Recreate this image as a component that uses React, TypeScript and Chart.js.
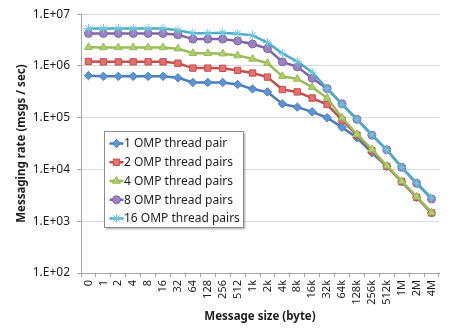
import React, { useEffect, useRef } from 'react';
import { Chart, registerables } from 'chart.js';
import { drawPoint } from 'chart.js/helpers';

Chart.register(...registerables);

const categories = ['0', '1', '2', '4', '8', '16', '32', '64', '128', '256', '512', '1k', '2k', '4k', '8k', '16k', '32k', '64k', '128k', '256k', '512k', '1M', '2M', '4M'];

const pair1 = [650000, 630000, 630000, 630000, 630000, 630000, 590000, 480000, 480000, 480000, 440000, 360000, 315000, 185000, 160000, 130000, 100000, 65000, 41000, 21000, 11500, 5800, 2900, 1450];
const pairs2 = [1220000, 1200000, 1200000, 1200000, 1200000, 1200000, 1130000, 910000, 910000, 900000, 820000, 730000, 610000, 350000, 315000, 240000, 180000, 90000, 46000, 23000, 11500, 5800, 2900, 1450];
const pairs4 = [2300000, 2280000, 2280000, 2280000, 2280000, 2280000, 2160000, 1760000, 1760000, 1730000, 1590000, 1370000, 1130000, 630000, 560000, 390000, 240000, 100000, 48000, 24500, 11800, 5900, 3000, 1480];
const pairs8 = [4250000, 4250000, 4250000, 4250000, 4250000, 4250000, 4000000, 3300000, 3300000, 3300000, 3040000, 2660000, 2160000, 1200000, 960000, 580000, 365000, 186000, 93000, 46000, 24000, 11000, 5400, 2700];
const pairs16 = [5300000, 5300000, 5300000, 5300000, 5300000, 5300000, 4900000, 4300000, 4300000, 4400000, 4200000, 3900000, 2830000, 1750000, 1210000, 760000, 365000, 181000, 93000, 47000, 24000, 11000, 5500, 2800];

const seriesNames = ['1 OMP thread pair', '2 OMP thread pairs', '4 OMP thread pairs', '8 OMP thread pairs', '16 OMP thread pairs'];
const yTickValues = [1e2, 1e3, 1e4, 1e5, 1e6, 1e7];
const yTickLabels = ['1.E+02', '1.E+03', '1.E+04', '1.E+05', '1.E+06', '1.E+07'];

const FONT = "'Noto Sans', 'DejaVu Sans', sans-serif";
const TEXT = '#1e1e1e';

const styles = [
  { line: '#4A7EBB', fill: '#5E94D6', point: 'rectRot', r: 4.2 },
  { line: '#C0504D', fill: '#E8706C', point: 'rect', r: 4.5 },
  { line: '#9BBB59', fill: '#AECF6A', point: 'triangle', r: 4.5 },
  { line: '#8064A2', fill: '#9B83C1', point: 'circle', r: 4 },
  { line: '#4BACC6', fill: '#6FC8DF', point: 'star', r: 4.5 },
];

const legendPlugin = {
  id: 'boxLegend',
  afterDraw(chart: any) {
    const { ctx, chartArea } = chart;
    const x0 = Math.round(chartArea.left + 23) + 0.5;
    const y0 = Math.round(chartArea.top + 117) + 0.5;
    const w = 139;
    const h = 96;
    ctx.save();
    ctx.shadowColor = 'rgba(0,0,0,0.35)';
    ctx.shadowOffsetX = 1.5;
    ctx.shadowOffsetY = 1.5;
    ctx.shadowBlur = 2;
    ctx.fillStyle = '#ffffff';
    ctx.fillRect(x0, y0, w, h);
    ctx.shadowColor = 'transparent';
    ctx.strokeStyle = '#8c8c8c';
    ctx.lineWidth = 1;
    ctx.strokeRect(x0, y0, w, h);
    chart.data.datasets.forEach((ds: any, i: number) => {
      const cy = y0 + 12 + i * 18.75;
      const st = styles[i];
      ctx.strokeStyle = st.line;
      ctx.lineWidth = 2.5;
      ctx.beginPath();
      ctx.moveTo(x0 + 5, cy);
      ctx.lineTo(x0 + 19, cy);
      ctx.stroke();
      ctx.fillStyle = st.fill;
      ctx.strokeStyle = st.point === 'star' ? st.fill : st.line;
      ctx.lineWidth = 1;
      drawPoint(ctx, { pointStyle: st.point, radius: st.r, borderWidth: 1, rotation: 0 } as any, x0 + 12, cy);
      ctx.fillStyle = TEXT;
      ctx.font = `12px ${FONT}`;
      ctx.textBaseline = 'middle';
      ctx.textAlign = 'left';
      ctx.fillText(ds.label, x0 + 19.5, cy + 0.5);
    });
    ctx.restore();
  },
};

export default function App() {
  const ref = useRef<HTMLCanvasElement>(null);
  useEffect(() => {
    if (!ref.current) return;
    const seriesData = [pair1, pairs2, pairs4, pairs8, pairs16];
    const chart = new Chart(ref.current, {
      type: 'line',
      data: {
        labels: categories,
        datasets: seriesData.map((d, i) => ({
          label: seriesNames[i],
          data: d,
          order: seriesData.length - i,
          borderColor: styles[i].line,
          backgroundColor: styles[i].fill,
          borderWidth: 2.5,
          pointStyle: styles[i].point as any,
          pointRadius: styles[i].r,
          pointBackgroundColor: styles[i].fill,
          pointBorderColor: styles[i].point === 'star' ? styles[i].fill : styles[i].line,
          pointBorderWidth: 1,
          tension: 0,
          fill: false,
        })),
      },
      options: {
        animation: false,
        responsive: true,
        maintainAspectRatio: false,
        layout: { padding: { left: 8, right: 13, top: 12, bottom: 4 } },
        plugins: { legend: { display: false }, tooltip: { enabled: false } },
        scales: {
          x: {
            type: 'category',
            offset: true,
            afterFit: (s: any) => { s.height = 52; },
            grid: { display: true, drawOnChartArea: false, drawTicks: true, tickLength: 4, color: '#a6a6a6', offset: true },
            border: { display: true, color: '#a6a6a6', width: 1 },
            ticks: { autoSkip: false, minRotation: 90, maxRotation: 90, padding: 3, color: TEXT, font: { family: FONT, size: 11 } },
            title: { display: true, text: 'Message size (byte)', color: TEXT, font: { family: FONT, size: 11.5, weight: 'bold' }, padding: { top: 0, bottom: 1.5 } },
          },
          y: {
            type: 'logarithmic',
            min: 1e2,
            max: 1e7,
            afterFit: (s: any) => { s.width = 73; },
            afterBuildTicks: (s: any) => { s.ticks = yTickValues.map((v) => ({ value: v })); },
            grid: { color: '#d9d9d9', tickLength: 4, drawTicks: true, tickColor: '#a6a6a6' },
            border: { display: true, color: '#a6a6a6', width: 1 },
            ticks: {
              padding: 7,
              color: TEXT,
              font: { family: FONT, size: 12 },
              callback: (v: any) => { const idx = yTickValues.indexOf(Number(v)); return idx >= 0 ? yTickLabels[idx] : ''; },
            },
            title: { display: true, text: 'Messaging rate (msgs / sec)', color: TEXT, font: { family: FONT, size: 11.5, weight: 'bold' }, padding: { top: 7, bottom: 0 } },
          },
        },
      },
      plugins: [legendPlugin],
    });
    return () => chart.destroy();
  }, []);
  return (
    <div style={{ position: 'fixed', left: 0, top: 0, width: 452, height: 329, background: '#fff' }}>
      <canvas ref={ref} />
    </div>
  );
}
